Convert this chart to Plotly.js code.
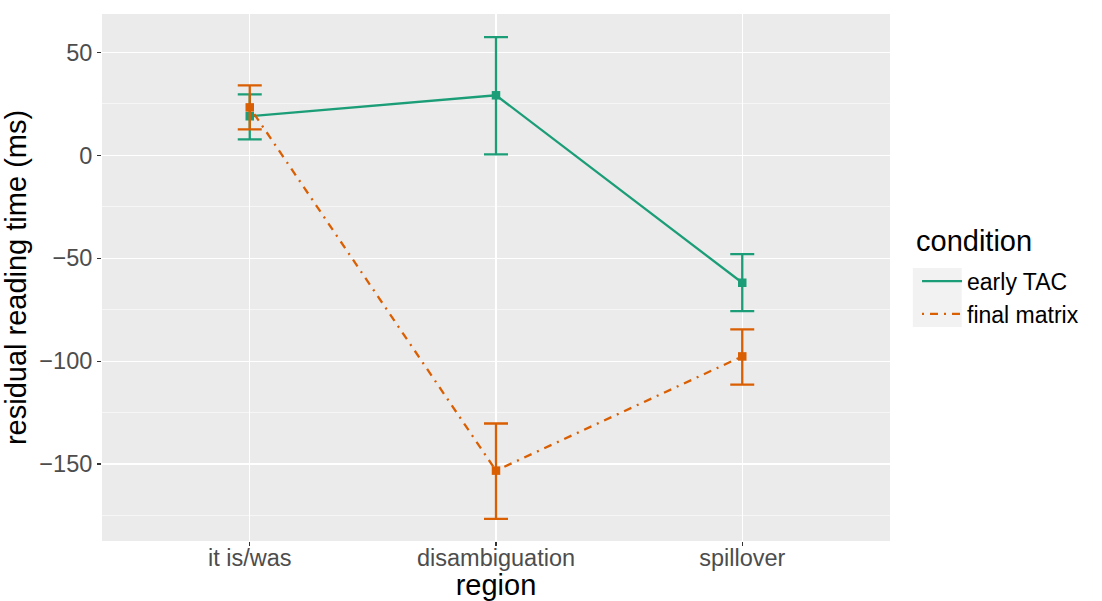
<!DOCTYPE html>
<html>
<head>
<meta charset="utf-8">
<script src="https://cdn.plot.ly/plotly-3.0.1.min.js"></script>
<style>html,body{margin:0;padding:0;background:#fff;}#chart{width:1102px;height:601px;}</style>
</head>
<body>
<div id="chart"></div>
<script>
const regions = ["it is/was", "disambiguation", "spillover"];
const earlyTAC = [19.0, 29.2, -61.9];
const earlyTACUpper = [29.6, 57.5, -48.0];
const earlyTACLower = [7.8, 0.5, -75.7];
const finalMatrix = [23.3, -153.2, -97.7];
const finalMatrixUpper = [34.0, -130.3, -84.6];
const finalMatrixLower = [12.6, -176.6, -111.4];
const seriesNames = ["early TAC", "final matrix"];
const legendTitle = "condition";
const colors = ["#1b9e77", "#d95f02"];

function plus(v, u){ return v.map((d,i)=>u[i]-d); }
function minus(v, l){ return v.map((d,i)=>d-l[i]); }

const traces = [];
const series = [
  {name: seriesNames[0], y: earlyTAC, up: earlyTACUpper, lo: earlyTACLower, color: colors[0], dash: "solid"},
  {name: seriesNames[1], y: finalMatrix, up: finalMatrixUpper, lo: finalMatrixLower, color: colors[1], dash: "2px,6px,8px,6px"}
];
series.forEach(s => {
  traces.push({
    x: regions, y: s.y, type: "scatter", mode: "lines", name: s.name,
    line: {color: s.color, width: 2.3, dash: s.dash}, showlegend: true, hoverinfo: "skip"
  });
});
series.forEach(s => {
  traces.push({
    x: regions, y: s.y, type: "scatter", mode: "markers", name: s.name, showlegend: false,
    marker: {color: s.color, symbol: "square", size: 8.5},
    error_y: {type: "data", symmetric: false, array: plus(s.y, s.up), arrayminus: minus(s.y, s.lo),
      color: s.color, thickness: 2.3, width: 12}
  });
});

const layout = {
  width: 1102, height: 601,
  margin: {l: 102, r: 212, t: 14, b: 60},
  paper_bgcolor: "#ffffff",
  plot_bgcolor: "#ebebeb",
  font: {family: "Liberation Sans, Arial, sans-serif", color: "#000"},
  xaxis: {
    type: "category", range: [-0.6, 2.6],
    showgrid: true, gridcolor: "#ffffff", gridwidth: 1.1,
    zeroline: false, showline: false,
    ticks: "outside", ticklen: 4, tickcolor: "#333333", tickwidth: 1.1,
    ticklabelstandoff: -8,
    tickfont: {size: 23.5, color: "#4d4d4d"},
    title: {text: "region", font: {size: 29, color: "#000"}, standoff: 6}
  },
  yaxis: {
    range: [-187.4, 68.7],
    tickvals: [50, 0, -50, -100, -150],
    showgrid: true, gridcolor: "#ffffff", gridwidth: 1.1,
    minor: {tickvals: [25, -25, -75, -125, -175], showgrid: true, gridcolor: "#ffffff", gridwidth: 0.55, ticks: ""},
    zeroline: false, showline: false,
    ticks: "outside", ticklen: 4, tickcolor: "#333333", tickwidth: 1.1,
    tickfont: {size: 23.5, color: "#4d4d4d"},
    title: {text: "residual reading time (ms)", font: {size: 29, color: "#000"}, standoff: 8}
  },
  legend: {
    x: 1.0343, y: 0.534, xanchor: "left", yanchor: "top",
    bgcolor: "rgba(0,0,0,0)",
    font: {size: 23, color: "#000"},
    tracegroupgap: 0, itemwidth: 40
  },
  annotations: [{
    text: legendTitle, xref: "paper", yref: "paper", x: 1.0305, y: 0.569,
    xanchor: "left", yanchor: "middle", showarrow: false,
    font: {size: 29, color: "#000"}
  }],
  shapes: [{
    type: "rect", xref: "paper", yref: "paper",
    x0: 1.029, x1: 1.091, y0: 0.406, y1: 0.518,
    fillcolor: "#f2f2f2", line: {width: 0}, layer: "below"
  }]
};

Plotly.newPlot("chart", traces, layout, {displayModeBar: false, staticPlot: true});
</script>
</body>
</html>
